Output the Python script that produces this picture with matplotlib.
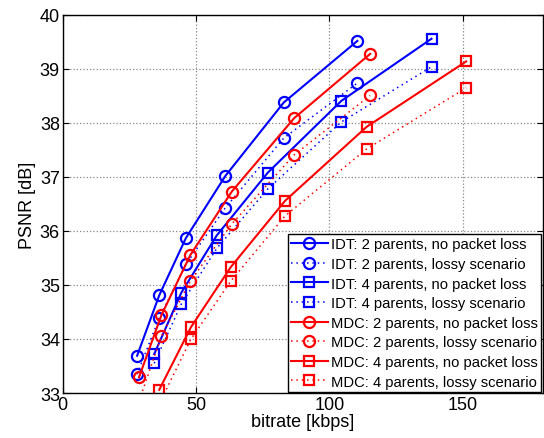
import matplotlib
matplotlib.use("Agg")
import matplotlib.pyplot as plt

plt.rcParams['font.family'] = ['Liberation Sans', 'DejaVu Sans']

# bitrate [kbps] and PSNR [dB] for each curve
idt2_rate = [27.9, 36.2, 46.2, 61.0, 82.9, 110.5]
idt2_psnr = [33.69, 34.81, 35.87, 37.02, 38.38, 39.52]
idt2_psnr_lossy = [33.35, 34.39, 35.38, 36.43, 37.72, 38.74]

idt4_rate = [34.3, 44.5, 57.8, 76.9, 104.5, 138.3]
idt4_psnr = [33.72, 34.86, 35.92, 37.08, 38.41, 39.56]
idt4_psnr_lossy = [33.55, 34.65, 35.68, 36.78, 38.02, 39.04]

mdc2_rate = [28.6, 37.0, 47.8, 63.4, 86.8, 115.3]
mdc2_psnr = [33.29, 34.44, 35.55, 36.73, 38.09, 39.28]
mdc2_psnr_lossy = [32.85, 34.05, 35.07, 36.13, 37.41, 38.51]

mdc4_rate = [36.2, 48.1, 63.0, 83.4, 114.0, 151.3]
mdc4_psnr = [33.06, 34.22, 35.33, 36.56, 37.93, 39.14]
mdc4_psnr_lossy = [32.8, 34.0, 35.07, 36.28, 37.52, 38.65]

x_ticks = [0, 50, 100, 150]
y_ticks = [33, 34, 35, 36, 37, 38, 39, 40]

fig = plt.figure(figsize=(5.44, 4.39), dpi=100)
ax = fig.add_axes([0.1153, 0.1025, 0.8823, 0.8611])

circ = dict(marker='o', ms=8, mew=1.6, mfc='none')
sq = dict(marker='s', ms=6.8, mew=1.6, mfc='none')
solid = dict(lw=1.5)
dotted = dict(lw=1.1, dashes=(1, 2.5))

ax.plot(idt2_rate, idt2_psnr, 'b-', label='IDT: 2 parents, no packet loss', **circ, **solid)
ax.plot(idt2_rate, idt2_psnr_lossy, 'b:', label='IDT: 2 parents, lossy scenario', **circ, **dotted)
ax.plot(idt4_rate, idt4_psnr, 'b-', label='IDT: 4 parents, no packet loss', **sq, **solid)
ax.plot(idt4_rate, idt4_psnr_lossy, 'b:', label='IDT: 4 parents, lossy scenario', **sq, **dotted)
ax.plot(mdc2_rate, mdc2_psnr, 'r-', label='MDC: 2 parents, no packet loss', **circ, **solid)
ax.plot(mdc2_rate, mdc2_psnr_lossy, 'r:', label='MDC: 2 parents, lossy scenario', **circ, **dotted)
ax.plot(mdc4_rate, mdc4_psnr, 'r-', label='MDC: 4 parents, no packet loss', **sq, **solid)
ax.plot(mdc4_rate, mdc4_psnr_lossy, 'r:', label='MDC: 4 parents, lossy scenario', **sq, **dotted)

ax.set_xlim(0, 180)
ax.set_ylim(33, 40)
ax.set_xticks(x_ticks)
ax.set_yticks(y_ticks)
ax.tick_params(direction='in', top=True, right=True, labelsize=13, length=4, pad=2)
ax.grid(True, linestyle=':', color='#888888', lw=0.9)
for s in ax.spines.values():
    s.set_linewidth(1.0)

ax.set_xlabel('bitrate [kbps]', fontsize=13, labelpad=0)
ax.set_ylabel('PSNR [dB]', fontsize=13, labelpad=3)

leg = ax.legend(loc='lower right', fontsize=10.6, fancybox=False, framealpha=1,
                edgecolor='black', handlelength=2.5, handletextpad=0.25,
                borderaxespad=0.1, labelspacing=0.38, borderpad=0.2)
leg.get_frame().set_linewidth(1.0)

fig.savefig('out.png', dpi=100)
